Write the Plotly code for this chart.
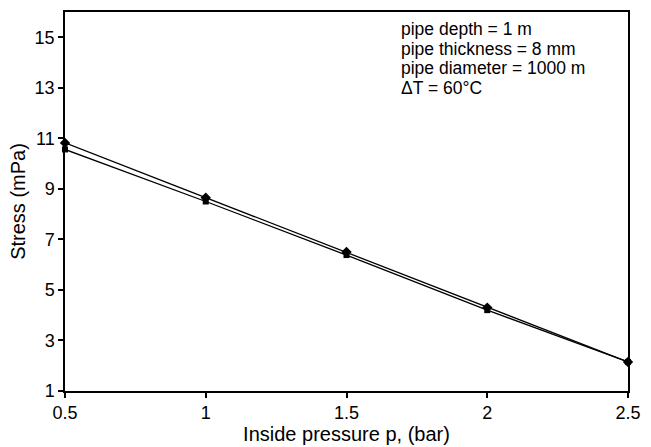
import plotly.graph_objects as go

pressure = [0.5, 1.0, 1.5, 2.0, 2.5]
stress_a = [10.82, 8.65, 6.5, 4.3, 2.15]
stress_b = [10.56, 8.5, 6.38, 4.2, 2.15]
y_ticks = [1, 3, 5, 7, 9, 11, 13, 15]
x_ticks = [0.5, 1, 1.5, 2, 2.5]
note_lines = ["pipe depth = 1 m", "pipe thickness = 8 mm",
              "pipe diameter = 1000 m", "ΔT = 60°C"]

FONT = "Liberation Sans, Arial, sans-serif"

fig = go.Figure()
fig.add_trace(go.Scatter(x=pressure, y=stress_a, mode="lines+markers",
                         line=dict(color="black", width=1.3),
                         marker=dict(symbol="diamond", size=8, color="black"),
                         showlegend=False, cliponaxis=False))
fig.add_trace(go.Scatter(x=pressure, y=stress_b, mode="lines+markers",
                         line=dict(color="black", width=1.3),
                         marker=dict(symbol="square", size=6, color="black"),
                         showlegend=False, cliponaxis=False))

for i, line in enumerate(note_lines):
    fig.add_annotation(x=0.595, y=1, xref="paper", yref="paper",
                       xanchor="left", yanchor="middle", align="left",
                       yshift=-(17 + 19.5 * i), borderpad=0,
                       text=line, showarrow=False,
                       font=dict(size=17.5, color="black", family=FONT))

axis_common = dict(showline=True, linecolor="black", linewidth=1.5, mirror=True,
                   ticks="outside", ticklen=5, tickwidth=1.5, tickcolor="black",
                   showgrid=False, zeroline=False,
                   tickfont=dict(size=18, color="black", family=FONT))
fig.update_xaxes(range=[0.5, 2.5], tickvals=x_ticks, ticktext=["0.5", "1", "1.5", "2", "2.5"],
                 title=dict(text="Inside pressure p, (bar)", font=dict(size=20, color="black", family=FONT), standoff=0),
                 **axis_common)
fig.update_yaxes(range=[1, 16], tickvals=y_ticks,
                 title=dict(text="Stress (mPa)", font=dict(size=20, color="black", family=FONT), standoff=4),
                 **axis_common)

fig.update_layout(width=651, height=447, margin=dict(l=65, r=14, t=10, b=55),
                  plot_bgcolor="white", paper_bgcolor="white",
                  font=dict(family=FONT, color="black"))

fig.write_html("out.html")
